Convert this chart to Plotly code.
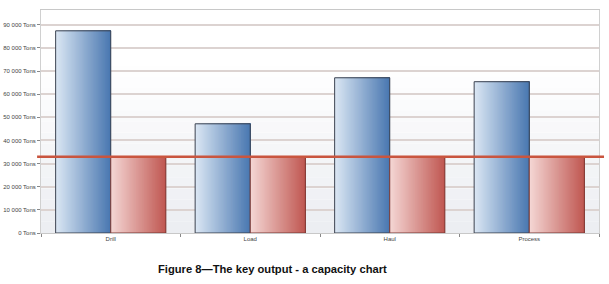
import plotly.graph_objects as go

# ---- data ----
categories = ["Drill", "Load", "Haul", "Process"]
capacity = [87400, 47200, 67100, 65400]
demand = [32700, 32700, 32700, 32700]
target_line = 33000
y_tick_values = [0, 10000, 20000, 30000, 40000, 50000, 60000, 70000, 80000, 90000]
y_tick_labels = ["0 Tons", "10 000 Tons", "20 000 Tons", "30 000 Tons", "40 000 Tons",
                 "50 000 Tons", "60 000 Tons", "70 000 Tons", "80 000 Tons", "90 000 Tons"]
caption = "Figure 8\u2014The key output - a capacity chart"

# ---- style ----
BAR_W = 0.395
N_SLICES = 48
blue_left, blue_right = (218, 230, 243), (74, 120, 177)
red_left, red_right = (244, 214, 212), (192, 88, 82)


def lerp(c1, c2, t):
    return "rgb(%d,%d,%d)" % tuple(round(a + (b - a) * t) for a, b in zip(c1, c2))


fig = go.Figure()


def gradient_bars(values, start, c_left, c_right, line_color):
    for i in range(N_SLICES):
        t = i / (N_SLICES - 1)
        off = start + i * BAR_W / N_SLICES
        fig.add_trace(go.Bar(
            x=categories, y=values,
            offset=off, width=BAR_W - i * BAR_W / N_SLICES,
            marker=dict(color=lerp(c_left, c_right, t), line=dict(width=0)),
            showlegend=False, hoverinfo="skip"))
    fig.add_trace(go.Bar(
        x=categories, y=values, offset=start, width=BAR_W,
        marker=dict(color="rgba(0,0,0,0)", line=dict(color=line_color, width=1)),
        showlegend=False, hoverinfo="skip"))


gradient_bars(capacity, -BAR_W, blue_left, blue_right, "#3b4250")
gradient_bars(demand, 0.0, red_left, red_right, "#7d3a36")

# background vertical gradient (white top -> light grey bottom)
shapes = []
n_bands = 20
for k in range(n_bands):
    t = k / (n_bands - 1)
    shapes.append(dict(type="rect", xref="x domain", yref="y domain",
                       x0=0, x1=1, y0=k / n_bands, y1=(k + 1) / n_bands,
                       fillcolor=lerp((236, 238, 242), (255, 255, 255), min(1, t * 1.3)),
                       line=dict(width=0), layer="below"))
shapes.append(dict(type="line", xref="paper", yref="y", x0=-0.007, x1=1.009,
                   y0=target_line, y1=target_line,
                   line=dict(color="#c9553f", width=2.5), layer="above"))

fig.update_layout(
    width=609, height=284,
    margin=dict(l=41, r=10, t=10, b=51, autoexpand=False),
    paper_bgcolor="white", plot_bgcolor="white",
    barmode="overlay",
    shapes=shapes,
    font=dict(family="Liberation Sans, Arial, sans-serif", color="#444"),
    xaxis=dict(type="category", range=[-0.5, 3.5], tickson="boundaries",
               automargin=False,
               ticks="outside", ticklen=3, tickcolor="#888",
               showline=True, linecolor="#c8c8c8", mirror=True,
               showgrid=False, tickfont=dict(size=6, color="#444")),
    yaxis=dict(range=[0, 96400], tickvals=y_tick_values, ticktext=y_tick_labels,
               automargin=False,
               ticks="outside", ticklen=3, tickcolor="#888",
               showgrid=True, gridcolor="#dcd3d1", gridwidth=1.5,
               zeroline=False, showline=True, linecolor="#d0d0d0", mirror=True,
               tickfont=dict(size=6, color="#444")),
    annotations=[dict(text="<b>" + caption + "</b>", xref="paper", yref="paper",
                      x=0.414, y=-0.161, xanchor="center", yanchor="middle",
                      showarrow=False,
                      font=dict(family="Liberation Sans, Arial",
                                size=11.2, color="#111"))],
)

fig.write_html("out.html",
               config={"displayModeBar": False},
               post_script="document.body.style.margin='0';document.body.style.overflow='hidden';")
